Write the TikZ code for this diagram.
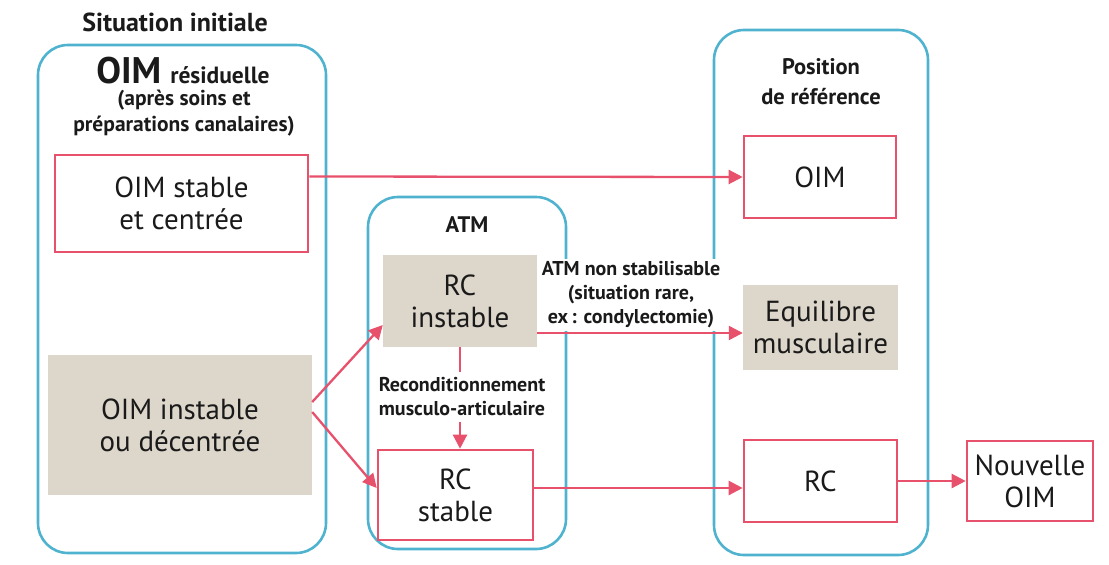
\documentclass[tikz,border=0pt]{standalone}
\usepackage{fontspec}
\setmainfont{PT Sans}
\usetikzlibrary{arrows.meta}
\definecolor{cyanb}{HTML}{4FB3CF}
\definecolor{redb}{HTML}{E8516B}
\definecolor{beige}{HTML}{DDD6CA}
\definecolor{ink}{HTML}{1A1A1A}
\begin{document}
\begin{tikzpicture}[x=1pt,y=-1pt,
  every node/.style={text=ink},
  container/.style={draw=cyanb, line width=2.6pt, rounded corners=30pt, inner sep=0pt},
  redbox/.style={draw=redb, line width=2.6pt, fill=white, align=center, inner sep=0pt, font=\fontsize{29}{32}\selectfont},
  beigebox/.style={fill=beige, align=center, inner sep=0pt, font=\fontsize{29}{32}\selectfont},
  ttl/.style={align=center, font=\fontsize{22.5}{30}\selectfont\bfseries},
  lbl/.style={align=center, fill=white, inner sep=2pt, font=\fontsize{20}{24}\selectfont\bfseries},
  arr/.style={draw=redb, line width=2.3pt, -{Triangle[length=14pt,width=14pt]}}]
\useasboundingbox (0,0) rectangle (1109,565);

% containers
\node[container, minimum width=288pt, minimum height=508pt] (cleft) at (182,299) {};
\node[container, minimum width=198pt, minimum height=352pt] (catm) at (467,373) {};
\node[container, minimum width=214pt, minimum height=525pt] (cpos) at (821,292.5) {};

% titles
\node[font=\fontsize{26}{30}\selectfont\bfseries] (tsit) at (175,22) {Situation initiale};
\node[inner sep=0pt] (toim) at (183,71) {{\fontsize{37}{40}\selectfont\bfseries OIM}\hspace{9pt}{\fontsize{23.5}{26}\selectfont\bfseries résiduelle}};
\node[align=center, font=\fontsize{21.5}{26}\selectfont\bfseries] (tapres) at (184,113) {(après soins et\\préparations canalaires)};
\node[ttl] (tatm) at (467,225) {ATM};
\node[ttl] (tpos) at (821,82) {Position\\de référence};

% boxes
\node[redbox, minimum width=253pt, minimum height=97pt] (oimstable) at (181.5,203.5) {OIM stable\\et centrée};
\node[beigebox, minimum width=264pt, minimum height=140pt] (oiminst) at (180,425) {OIM instable\\ou décentrée};
\node[beigebox, minimum width=154pt, minimum height=92pt] (rcinst) at (460,301) {RC\\instable};
\node[redbox, minimum width=155pt, minimum height=90pt] (rcstable) at (455.5,495) {RC\\stable};
\node[redbox, minimum width=152pt, minimum height=82pt] (oimref) at (820,177) {OIM};
\node[beigebox, minimum width=155pt, minimum height=85pt] (equil) at (820.5,327.5) {Equilibre\\musculaire};
\node[redbox, minimum width=153pt, minimum height=82pt] (rcref) at (820.5,481) {RC};
\node[redbox, minimum width=126pt, minimum height=80pt] (nouv) at (1030,481) {Nouvelle\\OIM};

% label over the container borders (drawn before its arrow)
\node[lbl, inner ysep=3pt] (latm) at (631,295) {ATM non stabilisable\\(situation rare,\\ex\,: condylectomie)};

% connectors
\draw[arr] ([yshift=27pt]oimstable.east) -- (oimref.west);
\draw[arr] ([yshift=23pt]oiminst.east) -- ([yshift=-24pt]rcinst.west);
\draw[arr] ([yshift=13pt]oiminst.east) -- ([yshift=7pt]rcstable.west);
\draw[arr] ([yshift=-32pt]rcinst.east) -- ([yshift=-32pt]rcinst.east -| equil.west);
\draw[arr] ([yshift=7pt]rcstable.east) -- ([yshift=7pt]rcstable.east -| rcref.west);
\draw[arr] (rcref.east) -- (nouv.west);
\draw[arr] (rcinst.south) -- (rcinst.south |- rcstable.north);

% label interrupting the vertical connector
\node[lbl, inner ysep=6pt] (lrecond) at (462,397) {Reconditionnement\\musculo-articulaire};
\end{tikzpicture}
\end{document}
